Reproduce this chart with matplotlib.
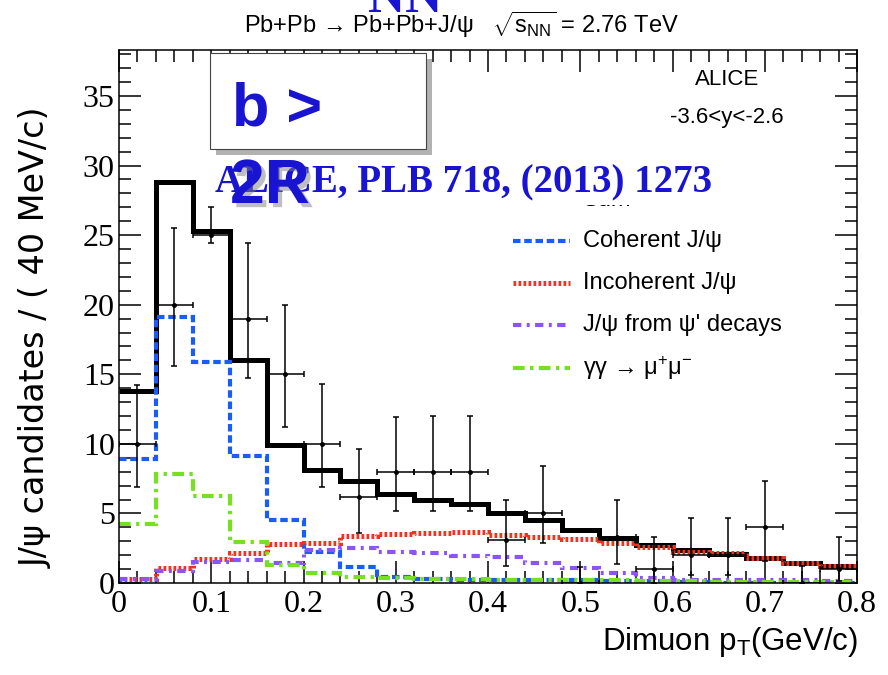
import matplotlib
matplotlib.use('Agg')
import matplotlib.pyplot as plt
import numpy as np
from matplotlib.patches import Rectangle
from matplotlib.lines import Line2D
import matplotlib.patheffects as pe
from matplotlib.ticker import MultipleLocator, FuncFormatter

# ---------------- data ----------------
edges = np.round(np.arange(0, 0.8001, 0.04), 2)
sum_vals = [13.8, 28.8, 25.3, 16.0, 9.9, 8.1, 7.3, 6.4, 5.95, 5.65,
            5.05, 4.55, 3.8, 3.25, 2.7, 2.35, 2.1, 1.8, 1.42, 1.22]
coherent_vals = [8.9, 19.1, 15.9, 9.1, 4.5, 2.2, 1.17, 0.45, 0.3, 0.25,
                 0.22, 0.2, 0.18, 0.15, 0.12, 0.1, 0.0, 0.0, 0.0, 0.0]
incoherent_vals = [0.3, 1.07, 1.7, 2.15, 2.8, 2.9, 3.4, 3.5, 3.6, 3.7,
                   3.45, 3.3, 3.15, 2.9, 2.6, 2.25, 2.15, 1.8, 1.42, 1.22]
psi2s_vals = [0.3, 0.85, 1.5, 1.65, 1.45, 2.37, 2.5, 2.2, 2.15, 1.94,
              1.9, 1.46, 1.07, 0.7, 0.35, 0.25, 0.22, 0.2, 0.18, 0.15]
gg_vals = [4.25, 7.8, 6.25, 2.97, 1.3, 0.74, 0.45, 0.35, 0.3, 0.28,
           0.25, 0.22, 0.2, 0.18, 0.15, 0.12, 0.1, 0.1, 0.08, 0.08]

data_x = [0.02, 0.06, 0.10, 0.14, 0.18, 0.22, 0.26, 0.30, 0.34, 0.38,
          0.42, 0.46, 0.50, 0.54, 0.58, 0.62, 0.66, 0.70, 0.74, 0.78]
data_y = [10.0, 20.0, 25.0, 19.0, 15.0, 10.0, 6.2, 8.0, 8.0, 8.0,
          3.1, 5.0, 0.0, 3.3, 1.0, 2.0, 2.0, 4.0, 0.0, 1.0]
data_lo = [6.9, 15.6, 24.4, 14.7, 11.2, 6.9, 3.6, 5.2, 5.2, 5.2,
           1.2, 2.85, 0.0, 1.4, 0.0, 0.6, 0.6, 1.55, 0.0, 0.17]
data_hi = [14.2, 25.5, 27.0, 24.4, 20.0, 14.3, 9.6, 11.9, 12.0, 12.0,
           6.0, 8.4, 1.15, 6.0, 3.3, 4.65, 4.65, 7.3, 1.2, 3.3]
bin_halfwidth = 0.02

legend_labels = ['Sum', 'Coherent J/ψ', 'Incoherent J/ψ',
                 "J/ψ from ψ' decays", r'γγ → μ$^{+}$μ$^{-}$']

# ---------------- style ----------------
SANS = ['Liberation Sans', 'DejaVu Sans']
plt.rcParams['font.family'] = ['Liberation Serif', 'DejaVu Serif']
plt.rcParams['mathtext.fontset'] = 'custom'
plt.rcParams['mathtext.rm'] = 'Liberation Sans'
plt.rcParams['mathtext.it'] = 'Liberation Sans:italic'
plt.rcParams['mathtext.bf'] = 'Liberation Sans:bold'
plt.rcParams['mathtext.sf'] = 'Liberation Sans'

BLUE_TXT = '#1814d2'
C_COH = '#1a5cf5'
C_INC = '#ee3322'
C_PSI = '#8a55f0'
C_GG = '#77e022'

fig = plt.figure(figsize=(8.88, 6.75), dpi=100)
ax = fig.add_axes([119/888, 1-583/675, 738/888, 533/675])
ax.set_xlim(0, 0.8)
ax.set_ylim(0, 38.3)

styles = [
    dict(color='black', lw=3.6, linestyle='-'),
    dict(color=C_COH, lw=3.0, linestyle=(0, (1.8, 0.9))),
    dict(color=C_INC, lw=3.6, linestyle=(0, (0.55, 0.45))),
    dict(color=C_PSI, lw=3.0, linestyle=(0, (2.0, 1.3, 0.7, 1.3))),
    dict(color=C_GG, lw=3.0, linestyle=(0, (2.8, 1.3, 0.8, 1.3))),
]
series = [sum_vals, coherent_vals, incoherent_vals, psi2s_vals, gg_vals]
for i, (vals, st) in enumerate(zip(series, styles)):
    ax.stairs(vals, edges, baseline=None, zorder=2 + i * 0.1, **st)

y = np.array(data_y)
yerr = [y - np.array(data_lo), np.array(data_hi) - y]
ax.errorbar(data_x, data_y, yerr=yerr, xerr=bin_halfwidth, fmt='o', ms=2.5,
            color='black', elinewidth=1.1, capsize=2.5, capthick=1.1, zorder=4)

# ticks
ax.xaxis.set_major_locator(MultipleLocator(0.1))
ax.xaxis.set_minor_locator(MultipleLocator(0.02))
ax.yaxis.set_major_locator(MultipleLocator(5))
ax.yaxis.set_minor_locator(MultipleLocator(1))
fmt = FuncFormatter(lambda v, p: f'{v:g}')
ax.xaxis.set_major_formatter(fmt)
ax.yaxis.set_major_formatter(fmt)
ax.tick_params(which='both', direction='in', top=True, right=True, width=1.1,
               labelsize=23)
ax.tick_params(which='major', length=16)
ax.tick_params(which='minor', length=8.5)
ax.tick_params(axis='x', pad=5)
ax.tick_params(axis='y', pad=3)
for s in ax.spines.values():
    s.set_linewidth(1.1)

# legend (manual)
leg_rows = [200, 241, 283, 325, 368]
for lab, st, py in zip(legend_labels, styles, leg_rows):
    ya = (583 - py) / 533
    ax.add_line(Line2D([(513-119)/738, (570-119)/738], [ya, ya],
                       transform=ax.transAxes, zorder=6, **st))
    ax.text((583-119)/738, ya, lab, transform=ax.transAxes, ha='left',
            va='center', fontsize=17, family=SANS, zorder=6)

ax.text(0.824, 0.944, 'ALICE', transform=ax.transAxes, ha='center',
        va='center', fontsize=16, family=SANS)
ax.text(0.824, 0.874, '-3.6<y<-2.6', transform=ax.transAxes, ha='center',
        va='center', fontsize=16, family=SANS)

# axis labels and title
fig.text(858/888, 1-650/675, r'Dimuon p$_{\mathrm{T}}$(GeV/c)', ha='right',
         va='baseline', fontsize=22.5, family=SANS)
fig.text(36/888, 1-338/675, 'J/ψ candidates / ( 40 MeV/c)', rotation=90,
         ha='center', va='center', fontsize=24, family=['DejaVu Sans'])
fig.text(461/888, 1-33/675,
         r'Pb+Pb → Pb+Pb+J/ψ   $\sqrt{\mathrm{s}_{\mathrm{NN}}}$ = 2.76 TeV',
         ha='center', va='baseline', fontsize=17, family=SANS)

# white patch that hides part of the legend
fig.add_artist(Rectangle((495/888, 1-205/675), 205/888, 65/675,
                         transform=fig.transFigure, facecolor='white',
                         edgecolor='none', zorder=8))

# overlay box
fig.add_artist(Rectangle((210/888, 1-149/675), 216/888, 96/675,
                         transform=fig.transFigure, facecolor='white',
                         edgecolor='#444444', lw=0.8, zorder=9,
                         path_effects=[pe.withSimplePatchShadow(
                             offset=(4, -4), shadow_rgbFace='gray', alpha=0.6)]))
fig.text(232/888, 1-125/675, 'b >', color=BLUE_TXT, fontsize=44,
         weight='bold', family=['Liberation Sans'], va='baseline', zorder=10)
fig.text(215/888, 1-192/675, 'ALICE, PLB 718, (2013) 1273', color=BLUE_TXT,
         fontsize=28, weight='bold', family=['Liberation Serif'],
         va='baseline', zorder=11)
fig.text(230/888, 1-203/675, '2R', color=BLUE_TXT, fontsize=45,
         weight='bold', family=['Liberation Sans'], va='baseline', zorder=12,
         path_effects=[pe.withSimplePatchShadow(offset=(3, -3),
                                                shadow_rgbFace='gray',
                                                alpha=0.5)])
fig.text(368/888, 1-12/675, 'NN', color=BLUE_TXT, fontsize=37,
         weight='bold', family=['Liberation Serif'], va='baseline', zorder=12)

fig.savefig('out.png', dpi=100)
